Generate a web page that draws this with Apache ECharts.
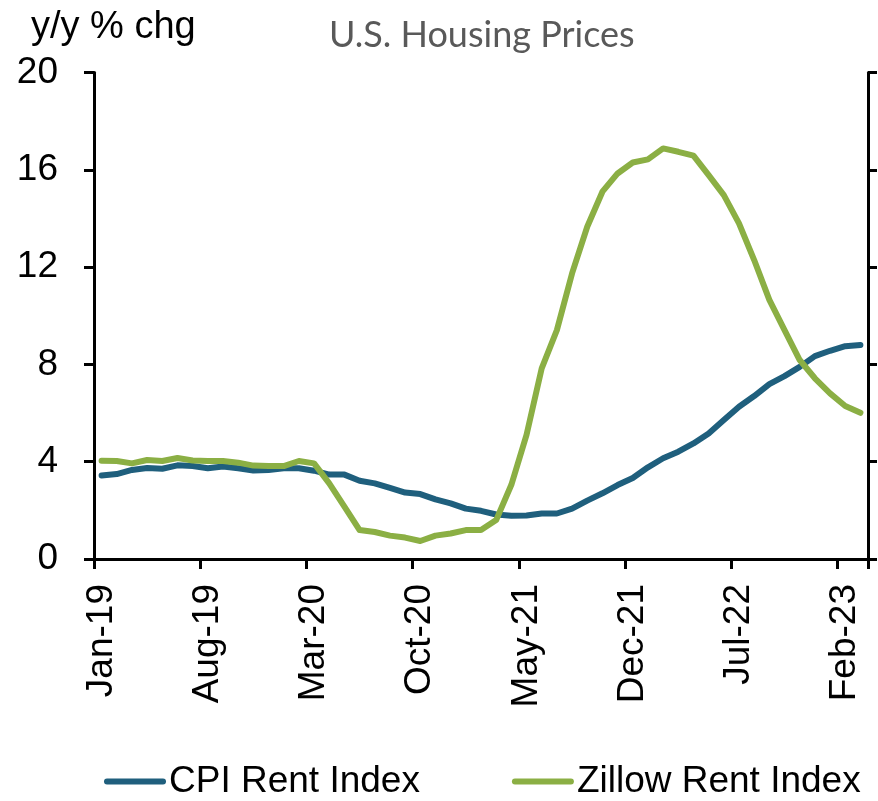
<!DOCTYPE html>
<html>
<head>
<meta charset="utf-8">
<script src="https://cdn.jsdelivr.net/npm/echarts@6/dist/echarts.min.js"></script>
<style>html,body{margin:0;padding:0;background:#fff;}#chart{width:878px;height:801px;}</style>
</head>
<body>
<div id="chart"></div>
<script>
const categories = ['Jan-19','Feb-19','Mar-19','Apr-19','May-19','Jun-19','Jul-19','Aug-19','Sep-19','Oct-19','Nov-19','Dec-19',
  'Jan-20','Feb-20','Mar-20','Apr-20','May-20','Jun-20','Jul-20','Aug-20','Sep-20','Oct-20','Nov-20','Dec-20',
  'Jan-21','Feb-21','Mar-21','Apr-21','May-21','Jun-21','Jul-21','Aug-21','Sep-21','Oct-21','Nov-21','Dec-21',
  'Jan-22','Feb-22','Mar-22','Apr-22','May-22','Jun-22','Jul-22','Aug-22','Sep-22','Oct-22','Nov-22','Dec-22',
  'Jan-23','Feb-23','Mar-23'];
const cpiRent = [3.43,3.49,3.66,3.74,3.71,3.85,3.82,3.73,3.80,3.73,
  3.64,3.66,3.73,3.73,3.63,3.47,3.47,3.22,3.11,2.92,
  2.73,2.67,2.45,2.29,2.07,1.98,1.83,1.78,1.79,1.87,
  1.87,2.07,2.40,2.70,3.04,3.33,3.77,4.14,4.41,4.75,
  5.16,5.71,6.26,6.70,7.19,7.52,7.90,8.34,8.56,8.75,8.80];
const zillowRent = [4.04,4.03,3.93,4.07,4.03,4.15,4.05,4.03,4.03,3.96,
  3.84,3.82,3.82,4.03,3.93,3.11,2.15,1.19,1.11,0.96,
  0.88,0.74,0.96,1.05,1.19,1.19,1.60,3.05,5.10,7.84,
  9.41,11.74,13.66,15.10,15.85,16.30,16.43,16.88,16.74,16.58,
  15.78,14.96,13.80,12.29,10.65,9.41,8.18,7.43,6.81,6.29,6.01];
const yTicks = {min: 0, max: 20, interval: 4};

const chart = echarts.init(document.getElementById('chart'), null, {renderer: 'canvas'});
const txtFont = '"Liberation Sans", Arial, sans-serif';
const capsule = 'path://M3,0 L59,0 A3,3 0 0 1 59,6 L3,6 A3,3 0 0 1 3,0 Z';
chart.setOption({
  animation: false,
  backgroundColor: '#ffffff',
  title: [
    {text: 'U.S. Housing Prices', left: 324, top: 12,
     textStyle: {fontFamily: 'Lato, "Open Sans", sans-serif', fontWeight: 'normal', fontSize: 36, color: '#595959'}},
    {text: 'y/y % chg', left: 26, top: 4,
     textStyle: {fontFamily: txtFont, fontWeight: 'normal', fontSize: 38, color: '#000'}}
  ],
  legend: {
    left: 104, top: 763, padding: 0,
    itemWidth: 62, itemHeight: 6, itemGap: 92,
    textStyle: {fontFamily: txtFont, fontSize: 37, color: '#000', padding: [0,0,0,-2]},
    data: [{name: 'CPI Rent Index', icon: capsule}, {name: 'Zillow Rent Index', icon: capsule}]
  },
  grid: {left: 94, right: 10, top: 72.5, bottom: 242, containLabel: false},
  xAxis: {
    type: 'category', data: categories, boundaryGap: true,
    axisLine: {show: true, onZero: false, lineStyle: {color: '#000', width: 3}},
    axisTick: {show: true, interval: 6, length: 10, inside: false, lineStyle: {color: '#000', width: 3}},
    axisLabel: {interval: 6, rotate: 90, margin: 25, fontFamily: txtFont, fontSize: 37, color: '#000'},
    splitLine: {show: false}
  },
  yAxis: [
    {type: 'value', position: 'left', min: yTicks.min, max: yTicks.max, interval: yTicks.interval,
     axisLine: {show: true, lineStyle: {color: '#000', width: 3}},
     axisTick: {show: true, length: 10, lineStyle: {color: '#000', width: 3}},
     axisLabel: {margin: 36, fontFamily: txtFont, fontSize: 37, color: '#000'},
     splitLine: {show: false}},
    {type: 'value', position: 'right', min: yTicks.min, max: yTicks.max, interval: yTicks.interval,
     axisLine: {show: true, lineStyle: {color: '#000', width: 3}},
     axisTick: {show: true, length: 9, lineStyle: {color: '#000', width: 3}},
     axisLabel: {show: false},
     splitLine: {show: false}}
  ],
  series: [
    {name: 'CPI Rent Index', type: 'line', data: cpiRent, showSymbol: false, symbol: 'none',
     color: '#1F5F7D', lineStyle: {width: 6, color: '#1F5F7D', cap: 'round', join: 'round'}, z: 3},
    {name: 'Zillow Rent Index', type: 'line', data: zillowRent, showSymbol: false, symbol: 'none',
     color: '#8BAF44', lineStyle: {width: 6, color: '#8BAF44', cap: 'round', join: 'round'}, z: 4}
  ]
});
</script>
</body>
</html>
